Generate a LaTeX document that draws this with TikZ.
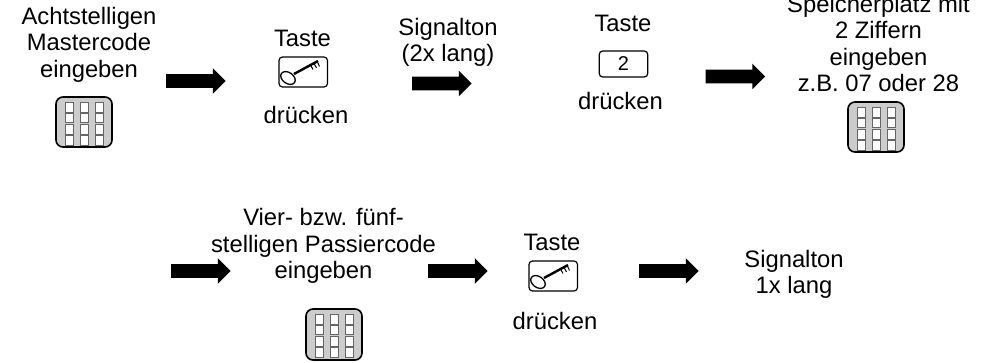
\documentclass[tikz,border=0pt]{standalone}
\usepackage{fontspec}
\setmainfont{Liberation Sans}
\usetikzlibrary{shapes.arrows}
\tikzset{x=1pt,y=-1pt,
  lbl/.style={inner sep=0pt,anchor=base,align=center,font=\fontsize{23.8pt}{26.5pt}\selectfont,text=black},
  bigarrow/.style={single arrow,anchor=tip,fill=black,draw=none,inner xsep=0pt,inner ysep=6.75pt,minimum height=59.5pt,single arrow head extend=6pt,single arrow head indent=0pt},
  padbody/.style={draw=black,line width=1.6pt,fill=black!20,rounded corners=7pt},
  padcell/.style={draw=black!60,line width=0.8pt,fill=white},
  keybox/.style={draw=black,line width=1.2pt,fill=white,rounded corners=3.5pt}}
\newcommand{\keypad}[3]{%
  \begin{scope}[shift={(#1,#2)}]
    \draw[padbody] (0,0) rectangle (56,#3);
    \foreach \cx in {9,24,39}{\foreach \cy in {5.5,16,27.5,38.5}{
      \draw[padcell] (\cx,\cy) rectangle ++(8,9.5);}}
  \end{scope}}
\newcommand{\keyicon}[2]{%
  \begin{scope}[shift={(#1,#2)}]
    \draw[keybox] (0,0) rectangle (48.5,30);
    \draw[line width=1.3pt,rotate around={-35:(9,21)}] (9,21) ellipse (8 and 5.5);
    \draw[line width=2.4pt] (15,17) -- (39,4);
    \draw[line width=1pt] (31,7) -- (34,12.5) (34.5,5.5) -- (37.5,11) (38,4) -- (40.5,9.5);
  \end{scope}}
\begin{document}
\begin{tikzpicture}
\useasboundingbox (0,0) rectangle (993,363);
\node[lbl] (t1) at (89,77.5) {Achtstelligen\\Mastercode\\eingeben};
\node[lbl] (t2) at (302.5,47) {Taste};
\node[lbl] (t2b) at (306,124) {drücken};
\node[lbl] (t3) at (448,62) {Signalton\\(2x lang)};
\node[lbl] (t4) at (623,32) {Taste};
\node[lbl] (t4b) at (620.5,110) {drücken};
\node[lbl] (t5) at (878.5,92) {Speicherplatz mit\\2 Ziffern\\eingeben\\z.B. 07 oder 28};
\node[lbl] (t6) at (323.5,279) {Vier- bzw. fünf-\\stelligen Passiercode\\eingeben};
\node[lbl] (t7) at (552,251) {Taste};
\node[lbl] (t7b) at (555,329) {drücken};
\node[lbl] (t8) at (794,294) {Signalton\\1x lang};
\node[bigarrow] (a1) at (226,81) {};
\node[bigarrow] (a2) at (472,83.5) {};
\node[bigarrow] (a3) at (765.5,76.5) {};
\node[bigarrow] (a4) at (231,271) {};
\node[bigarrow] (a5) at (488,271) {};
\node[bigarrow] (a6) at (699,271) {};
\keypad{56}{97}{50}
\keypad{848}{102}{50}
\keypad{306}{309}{51}
\keyicon{279}{57}
\keyicon{529}{261}
\node[keybox,minimum width=48.5pt,minimum height=26pt,inner sep=0pt,font=\fontsize{20pt}{22pt}\selectfont] (k2) at (623.5,64) {2};
\end{tikzpicture}
\end{document}
